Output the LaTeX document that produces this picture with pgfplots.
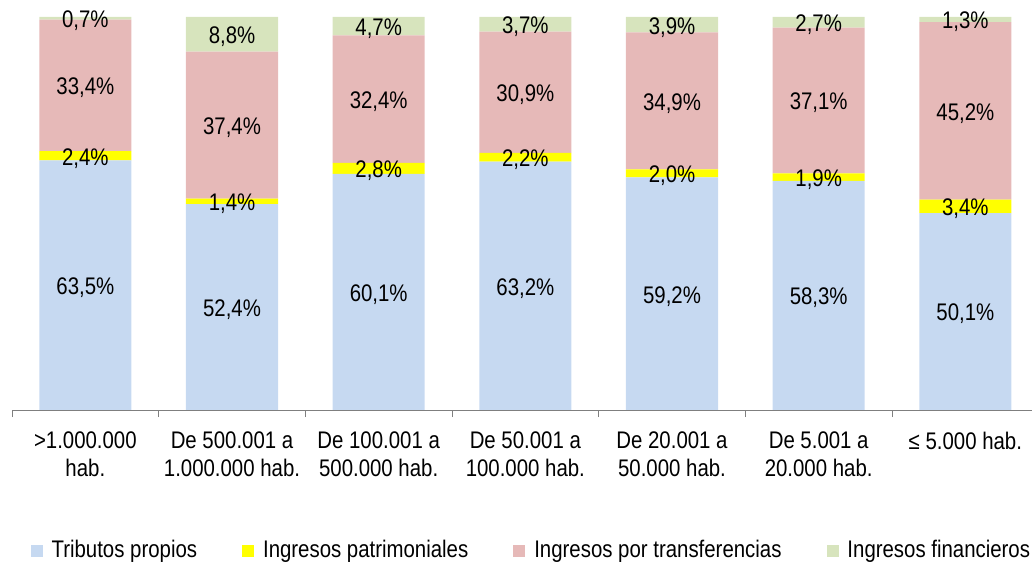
\documentclass[border=0pt]{standalone}
\usepackage{pgfplots}
\pgfplotsset{compat=1.18}
\usepackage{pgfplotstable}
\usepackage{fontspec}
\setmainfont{Liberation Sans}[FakeStretch=0.85]
\definecolor{cTrib}{HTML}{C6D9F1}
\definecolor{cPat}{HTML}{FFFF00}
\definecolor{cTra}{HTML}{E6B9B8}
\definecolor{cFin}{HTML}{D7E4BD}
\definecolor{cAx}{HTML}{7F7F7F}
\pgfplotstableread{
x a b c d
0 63.5 2.4 33.4 0.7
1 52.4 1.4 37.4 8.8
2 60.1 2.8 32.4 4.7
3 63.2 2.2 30.9 3.7
4 59.2 2.0 34.9 3.9
5 58.3 1.9 37.1 2.7
6 50.1 3.4 45.2 1.3
}\datatab
\newcommand{\bigf}{\fontsize{24bp}{28bp}\selectfont}
\begin{document}
\bigf
\begin{tikzpicture}
\pgfplotsset{
  base/.style={scale only axis, width=1026.7bp, height=393bp,
    at={(12bp,154bp)}, anchor=south west,
    xmin=-0.5, xmax=6.5, ymin=0, ymax=100, clip=false}
}
\begin{axis}[base, ybar stacked, bar width=0.628,
  axis x line=bottom, axis y line=none,
  x axis line style={-, draw=cAx, line width=0.8bp},
  xtick={0,...,6},
  xticklabels={{>1.000.000\\hab.},{De 500.001 a\\1.000.000 hab.},{De 100.001 a\\500.000 hab.},{De 50.001 a\\100.000 hab.},{De 20.001 a\\50.000 hab.},{De 5.001 a\\20.000 hab.},{≤ 5.000 hab.}},
  major x tick style={draw=none},
  minor xtick={-0.5,0.5,...,6.5},
  minor x tick style={draw=cAx, line width=0.8bp},
  minor tick length=7bp, major tick length=0pt,
  tick align=outside,
  xticklabel style={align=center, font=\bigf, text=black, anchor=north, yshift=-14bp},
  legend columns=4,
  legend style={draw=none, fill=none, at={(0.5,-0.3537)}, anchor=center, xshift=6bp, yshift=-2bp,
    font=\bigf, /tikz/every even column/.append style={column sep=43bp},
    /tikz/every odd column/.append style={column sep=7bp}},
  legend image code/.code={\fill[#1] (0bp,-6bp) rectangle (12bp,6bp);},
]
\addplot[fill=cTrib, draw=none] table[x=x, y=a]{\datatab};
\addlegendentry{Tributos propios}
\addplot[fill=cPat, draw=none] table[x=x, y=b]{\datatab};
\addlegendentry{Ingresos patrimoniales}
\addplot[fill=cTra, draw=none] table[x=x, y=c]{\datatab};
\addlegendentry{Ingresos por transferencias}
\addplot[fill=cFin, draw=none] table[x=x, y=d]{\datatab};
\addlegendentry{Ingresos financieros}
\end{axis}
\begin{axis}[base, hide axis, point meta=explicit,
  nodes near coords={\pgfmathprintnumber[fixed,fixed zerofill,precision=1,use comma,assume math mode=true]{\pgfplotspointmeta}\%},
  every node near coord/.style={anchor=center, font=\bigf, text=black, inner sep=0pt, yshift=-2.5bp}]
\addplot[draw=none, mark=none] table[x=x, y expr=\thisrow{a}/2, meta=a]{\datatab};
\addplot[draw=none, mark=none] table[x=x, y expr=\thisrow{a}+\thisrow{b}/2, meta=b]{\datatab};
\addplot[draw=none, mark=none] table[x=x, y expr=\thisrow{a}+\thisrow{b}+\thisrow{c}/2, meta=c]{\datatab};
\addplot[draw=none, mark=none] table[x=x, y expr=\thisrow{a}+\thisrow{b}+\thisrow{c}+\thisrow{d}/2, meta=d]{\datatab};
\end{axis}
\pgfresetboundingbox
\path[use as bounding box] (0,0) rectangle (1032bp,564bp);
\end{tikzpicture}
\end{document}
